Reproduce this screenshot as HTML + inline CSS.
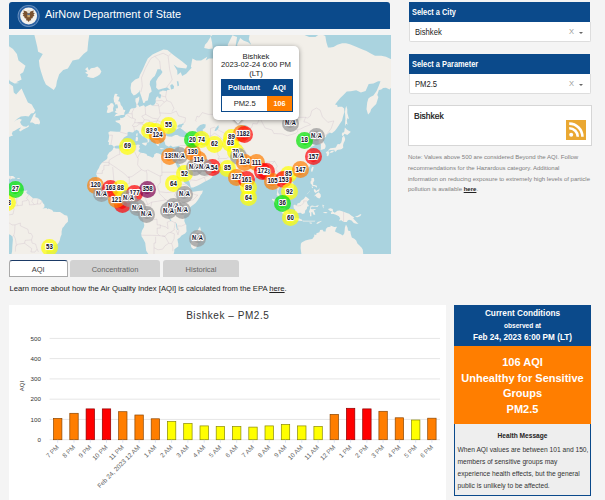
<!DOCTYPE html>
<html><head><meta charset="utf-8">
<style>
*{box-sizing:border-box;margin:0;padding:0}
html,body{width:605px;height:500px;overflow:hidden;background:#f4f4f4;font-family:"Liberation Sans",sans-serif;}
.abs{position:absolute}
#hdr{left:9px;top:2px;width:381px;height:27px;background:#0b4a8b;border-radius:3px 3px 0 0}
#hdr .t{position:absolute;left:36px;top:6px;color:#fff;font-size:10.95px;line-height:13px;white-space:nowrap}
#map{left:9px;top:34.5px;width:381.5px;height:219.3px;background:#aad3df;overflow:hidden}
.mk{position:absolute;width:17px;height:17px;border-radius:50%}
.mk i{position:absolute;left:3.5px;top:3.5px;width:10px;height:10px;border-radius:50%}
.mk b{position:absolute;left:-6px;width:29px;top:4.5px;text-align:center;font-size:6.9px;line-height:8px;color:#0b0b1c;font-weight:bold;transform:scaleX(.88);text-shadow:.7px .7px 0 #fff,-.7px .7px 0 #fff,.7px -.7px 0 #fff,-.7px -.7px 0 #fff,0 1px 0 #fff,0 -1px 0 #fff,1px 0 0 #fff,-1px 0 0 #fff,0 0 2px #fff,0 0 2.5px #fff,0 0 3px #fff}
.mk s{display:inline-block;text-decoration:none;font-weight:normal;transform:skewX(-22deg);margin:0 .2px}
#pop{left:203.6px;top:11.1px;width:86.8px;height:74px;background:#fff;border-radius:5px;box-shadow:0 1px 5px rgba(0,0,0,.4);text-align:center;font-size:7.7px;color:#222;line-height:8.6px;padding-top:7px}
#pop .tb{position:absolute;left:8.4px;top:33.8px;width:71.6px;height:33px;border:1px solid #0b4a8b}
#pop .th{position:absolute;left:0;top:0;width:69.6px;height:15.5px;background:#0b4a8b;color:#fff;font-weight:bold;font-size:7.5px;line-height:15.5px}
#tip{left:225px;top:79.5px;width:8px;height:8px;background:#fff;transform:rotate(45deg);box-shadow:1px 1px 2px rgba(0,0,0,.3)}
.ph{left:409px;width:181px;height:19.7px;background:#0b4a8b;color:#fff;font-size:8.6px;font-weight:bold;line-height:10px;padding:5.2px 0 0 3px}
.ph span{display:inline-block;transform:scaleX(.86);transform-origin:0 50%;white-space:nowrap}
.sel{left:408.5px;width:182px;height:20.3px;background:#fff;border:1px solid #ddd;border-top:none;border-radius:0 0 2px 2px;font-size:8.7px;line-height:10px;color:#222;padding:5.8px 0 0 5.5px}
.sel span.v{display:inline-block;transform:scaleX(.88);transform-origin:0 50%;white-space:nowrap}
.sel .x{position:absolute;right:15.5px;top:5.5px;color:#999;font-size:7.5px;line-height:10px}
.sel .c{position:absolute;right:6.5px;top:10px;width:0;height:0;border:2px solid transparent;border-top:2.5px solid #666}
#bx{left:408px;top:105px;width:184px;height:41px;background:#fff;border:1px solid #d6d6d6}
#bx .t{position:absolute;left:5px;top:5px;font-size:8.5px;color:#111;-webkit-text-stroke:0.2px #111}
#note{left:408px;top:152px;width:190px;font-size:6.04px;line-height:10.8px;color:#808080;white-space:nowrap}
#note b{color:#222;text-decoration:underline}
.tab{top:260px;height:17px;font-size:7.5px;text-align:center;padding-top:5px;border-radius:3px 3px 0 0}
#learn{left:9.4px;top:283.5px;font-size:7.66px;color:#222;white-space:nowrap}
#chart{left:9px;top:305px;width:437px;height:195px;background:#fff}
#cc{left:454px;top:305px;width:137px;height:191px;text-align:center}
#cc .h{position:absolute;left:0;top:0;width:137px;height:41px;background:#0b4a8b;color:#fff;font-weight:bold}
#cc .o{position:absolute;left:0;top:41px;width:137px;height:78px;background:#ff7e00;color:#fff;font-weight:bold;font-size:11px;line-height:15.7px;padding-top:9px}
#cc .m{position:absolute;left:0;top:119px;width:137px;height:72px;background:#eee;border:1px solid #0b4a8b;border-top:none;font-size:6.68px;color:#333;line-height:11.9px;text-align:left;padding:6px 0 0 2.5px;white-space:nowrap}
#cc .m div{margin-bottom:2.5px}
</style></head><body>
<div id="hdr" class="abs"><svg class="abs" style="left:8px;top:2.6px" width="24" height="24" viewBox="0 0 24 24"><circle cx="11.6" cy="11" r="11" fill="#6f95c2"/><circle cx="11.6" cy="11" r="10.2" fill="#2c62a3"/><circle cx="11.6" cy="11" r="8.5" fill="#f4f1ec"/><path d="M11.6 5.2l1.6 1.3 3.6-.9-.6 2.2 1.6.2-1.3 1.8 1 .6-2 1.7.4 1-2.2.6.6 1.6-1.6.2-1.1 1.6-1.1-1.6-1.6-.2.6-1.6-2.2-.6.4-1-2-1.7 1-.6-1.3-1.8 1.6-.2-.6-2.2 3.6.9z" fill="#7a5230"/><circle cx="11.6" cy="6.6" r="1.7" fill="#e9dfcf"/><rect x="10.3" y="8.6" width="2.6" height="3.6" fill="#c9a36a"/><rect x="10.3" y="8.6" width="2.6" height="1.2" fill="#3a5f9a"/></svg><div class="t">AirNow Department of State</div></div>
<div id="map" class="abs">
<svg width="382" height="220" viewBox="0 0 382 220" style="position:absolute;left:0;top:0"><path d="M104.5 112.4L105.4 112.3L106.6 113.6L109 113.4L110.6 113.8L112.1 112.6L114 111.9L116.1 110.9L118.4 110.5L121.5 110.5L123.9 109.9L126.2 110.3L129.1 109.5L129.8 109.7L131.1 110.1L130.2 111.3L130.3 112.8L131.1 113.6L129.7 115.3L129.5 116.3L131.1 117.4L133.3 118.1L134.4 118L137.5 118.9L138.1 120.5L141.1 121.6L143.5 122.7L145 121.6L145.2 119.4L147.4 118L149.9 118.5L152.9 120.2L156 120.9L159.1 121.6L160.7 120.9L162.3 120.4L164.3 120.9L166.2 121.3L167.4 120.9L168.4 124.2L167.6 126.9L167.3 127.4L166.4 126.3L164.8 123.5L164.5 124L165.7 126.5L166.7 128.3L167.8 130.9L169.3 133.8L169.6 135.6L171.5 137.2L172 138.9L172.1 141.3L172.5 142.8L174.2 143.9L175.1 147.2L175.8 148.3L177.9 149.5L180 151.4L181.4 152.9L181.6 154.3L182.5 156.2L183.9 156.8L185.8 156.4L188.9 156.1L192.1 155.7L193.9 155.4L193.5 157L193 158.4L191.7 160L190.5 162.4L188.9 165.1L186.6 167.9L184.7 169.5L182.6 171L181.1 172.6L179.5 174.2L177.9 175.7L176.7 177L175.8 179.3L174.7 182L175.6 183.6L175.3 186L176.4 188.7L177.3 189.9L177.3 193.1L177.6 196.4L176.1 198.5L172.5 200.6L170.9 202.6L168.4 204.3L168.9 207.1L169.3 208.8L169.3 211.4L167 213.1L165.3 214.5L165.3 216.6L164.6 219.2L162.3 221.9L157.6 227.4L154 229.3L148.2 229.7L145 230.8L142.7 229.9L142.2 225.6L140.3 221L139.4 219.2L137.2 215.7L136.4 209.6L136.3 208L134.5 204.6L132.5 201.3L132.2 198.8L133 195.6L134.9 192.3L135.3 189.9L134.4 186.8L133.9 184.4L133 182L132.7 180.4L130.9 178.6L128.7 176.4L127.6 173.9L128.4 172.1L128.7 170.2L129.1 168.2L128.7 166.5L127.5 165.4L124.7 165.7L123.1 165.9L122.2 164.4L120.8 162.7L119 162.6L116.1 162.9L114.5 163.5L112.9 164.1L110.6 165.1L108.2 164.6L105.9 164.6L101.9 165.7L99.6 164.4L96.8 162.6L94.1 160.8L93 159.2L92.4 157.6L90.5 155.6L88.2 153.7L87.4 151.6L86.3 149.3L87.7 147.2L88.3 144.7L88.3 141.8L87.1 138.9L88.3 135.6L89.9 133L91 130.2L93.3 127.2L96 125.6L98 124L98.5 122.4L98.3 120.5L100.2 117.4L101.8 116.6L103.5 114.9ZM104.9 112.1L106.8 110.7L110.4 110.5L112.6 108.9L113.9 106.7L113.2 105.1L115 102.5L117.1 101.2L118.7 100.2L118.4 97.4L120 96.7L122 97.2L123.9 97.6L125.5 96.1L127.6 94.8L129.7 95.9L130.2 98L132.2 99.7L133.3 101.2L135.3 101.6L136.1 102.7L138.1 104.1L138.8 106.1L138.3 108.1L139.6 107.3L140.5 106.1L139.7 104.7L140.3 103.1L142.5 104.1L141.9 102.7L140.3 102L138.8 100.2L137.2 100L135.6 98.5L134.9 96.5L133.3 95.2L133 92.8L135.2 91.9L135.2 93.7L136.4 93L137.5 95L138.8 96.7L141.1 97.8L142.7 99.1L144.1 100.4L144.1 103.1L145 104.7L146.6 107.3L147.4 109.5L148.2 110.5L149 111.1L149.9 111.1L149.7 109.1L151.3 108.7L150.5 107.1L149.4 105.5L149.4 103.1L151 104.1L152.1 102.5L154.4 102.5L154.8 103.9L154.8 105.1L155.7 107.1L156.5 110.1L157.9 110.7L159.9 111.7L161.7 110.5L163.8 111.9L167 111.5L169.3 110.9L170.4 110.5L170 113L170 114.9L169.3 116.1L168.5 118.1L167.8 120.5L167.3 120.9L168.4 124.2L168.5 126.9L170.9 130.4L172 133.3L174 135.6L175 138.1L176.4 140.6L177.9 143.1L180.3 146.4L181.1 149.6L181.9 152.5L184.2 152.4L188.9 150.4L192.1 148.8L195.5 146.7L198.3 145.6L200.7 144.2L203 142.3L204.3 139.8L206.2 137.2L207.4 136.4L205.5 134.5L203 133.8L202.1 132.3L202.1 129.9L201.5 130.7L200.4 131.6L198.9 133.2L195.2 133.8L194.4 133L194.6 130.4L193.9 130.2L193.3 131.3L193.3 132.5L192.4 130L190.5 127.8L189.7 126L188.9 124.2L189.9 123.3L191.3 123.1L192.8 124.2L193.6 126L196 127.8L199.1 129.3L201.9 128.5L203.5 130.9L206.2 131.4L210.1 131.9L213.2 131.6L217.9 131.4L218.7 132.5L220.3 134.4L221 135.6L221.8 136.7L223.4 138.9L225 139.4L226.5 138.6L227.5 136.7L227.8 138.9L227.8 142.3L228.6 145.6L229.3 148L230.9 152.1L232.5 154.9L233.3 157L234.4 159.5L235.1 159.9L236.2 158.6L237.5 158L238.7 156.4L238.9 153.7L239.5 151.9L239.4 148.8L240.6 147.2L242.7 146.1L244.5 144.2L246.9 141.8L249.2 140.3L250 138.1L251.9 137.6L253.2 137.6L255.5 137.2L257.6 136.7L258.3 139.4L260.2 141.4L261.5 143.9L261.5 147.2L263 147.5L264.4 146.2L266 146.1L266.8 148.8L267.6 151.2L268.2 153.7L268.2 156.8L267.7 159.7L269.3 161.6L270.9 163.2L271 165.5L272.4 168.1L274 169.3L275.9 170.6L277 170.4L276.4 168.5L275.7 167.1L275.7 165.5L274.5 164L273.8 162.9L272 161.8L271.2 161.3L270.4 159.2L269.3 158L269.1 156.1L270.2 153.7L270.4 151.4L271.8 151.2L272 152.5L273.8 153.3L274.9 154.1L275.9 155.9L277.5 156.2L277.9 158.9L278.7 158.4L280.9 156.4L281.7 156.2L284.5 154.5L285 152.1L284.8 150.4L284.2 148L283.2 147L281.4 145.2L280.6 144.2L279.5 142.3L280.9 139.4L282.2 138.4L283.7 137.8L285.3 138.1L286.1 140.1L286.9 138.6L289.2 137.6L291.6 136.9L292.7 136.7L294.7 135.9L296.6 135L298.6 133L301 131.3L301.3 129.5L302.5 127.8L304.2 126L304.7 123.6L303.2 122.7L304.7 121.6L304.1 119.6L302.5 116.8L300.5 114.4L301 113.4L302.2 112.1L305.7 110.3L305.8 109.5L303.9 108.9L301 109.7L299.9 108.5L298.1 106.5L298.1 106.1L300.2 105.7L301.4 104.1L303.3 102.5L305.2 103.1L303.6 106.1L304.2 106.3L305.7 105.1L308.5 104.3L309.6 105.1L310 107.1L309.1 108.1L310.4 108.7L312.1 109.3L311.8 111.1L311.9 113L311.6 114.9L313.5 114.6L315.8 113.8L316.6 112.1L316.5 110.1L315.2 107.9L313.5 105.1L315.1 103.1L316.9 102L317.4 100L318.5 99.3L320.5 97.6L322.9 98.3L326 95.7L328.4 92.4L330.7 89L333.1 85.5L333.9 81.9L335.4 76.9L335.1 73.5L333.1 71.7L329.9 71.7L328.8 72.2L328.1 70.1L326 69.5L329.2 65.4L331.5 62.8L333.9 60.4L337.8 56.5L341.7 56.2L347.2 55.3L351.9 57.4L356.6 55.9L359.7 48.9L364.4 48.6L369.1 46.2L371.5 46.2L369.6 51.2L367.6 55.9L364.4 60.4L361.3 61.9L359.4 63.4L358.2 67.6L357.5 74.3L358.9 78.9L359.2 79.6L361.3 76.9L362.1 74.3L364.4 71.7L367.2 69L368.3 65.6L369.4 61.9L368.3 59.9L369.9 55L372.3 54.4L374.1 53.1L377 52.8L380.6 54.4L383.2 51.2L389.5 46.9L394.2 46.2L398.9 39.2L398.9 25.5L381.7 23.9L377 21.7L372.3 20.8L366 20.8L361.3 18.2L357.4 15.9L353.5 14.5L348.8 12.6L344 10.6L340.9 9.2L337 8.2L333.1 8.2L328.4 9.7L324.5 12.1L321.3 12.6L319 12.6L317.4 7.2L316.3 0.9L311.1 -1.3L306.4 1.9L300.2 1.9L292.3 -1.3L290.8 -4.7L286.1 -3.6L281.4 -0.8L278.2 -12.5L276.7 -27.4L270.4 -19L262.6 -15.7L254.7 -12.5L250 -9.4L246.9 -3.6L240.6 -0.8L239.8 4.6L242.2 9.7L239.1 7.2L234.4 5.6L231.2 3L228.1 9.7L229.7 16.8L228.9 23.4L227.3 22.1L226.5 12.1L228.1 1.9L223.4 0.3L218.7 9.7L221 21.3L218.7 23.4L215.6 20.4L208.5 17.7L207.7 23.4L199.9 23.4L196.8 25.5L198.3 21.7L192.1 25.5L187.3 25.5L183.4 23.4L181.9 31.6L182.6 32.8L177.2 38.8L173.2 41L171.7 37.3L168.5 39.9L168.2 35.5L164.6 29.6L168.5 32.4L177.2 33.6L178.3 30.8L173.2 26.4L165.4 20.8L162.3 18.2L158.4 14.9L154.4 14.5L148.2 17.2L143.5 19.5L138.8 23.4L136.4 28.4L133.3 35.5L130.9 39.9L130 43.1L126.2 44.5L122.3 47.9L121.5 53.1L122.3 57.4L124.7 60.4L127 59.6L130.2 56.8L130.5 54.7L130.9 57.4L132.2 61.3L133.8 66.2L134.1 67.9L136.1 67.6L136.4 65.9L138.8 65.4L139.6 61.9L140.3 58.4L142.7 56.5L141.9 52.8L140.7 49.5L141.1 46.2L143.5 43.1L145.8 41L147.4 37.3L148.5 34.3L151.6 34.3L153.5 37L152.1 39.2L149 42.8L147.1 46.2L147.4 49.5L147.1 52.5L149 54.4L149.7 54.7L152.9 53.7L156.8 52.8L158.4 52.5L161 54.7L158.4 55L157.6 55.9L153.7 55.6L152.4 56.2L150.5 56.8L150.5 59L152.1 59.6L151.8 61.9L151.3 63.4L149.7 63.1L149.1 61.3L147.4 62.2L146.6 64.8L146.8 67L145.8 69.2L144.9 69.8L144.3 70.6L142.8 70.6L141.9 69.5L139.6 70.3L136.1 71.9L134.9 70.3L132.5 71.1L130.9 71.7L130.6 71.9L129.4 70.3L128.6 69L129.4 67.6L130.2 64.8L130.3 61.3L128.6 62.8L126.5 63.4L126.4 66.2L127 67.9L127.2 69.2L127.5 71.7L127.2 72.2L126.2 73L124.7 73.3L122.3 73.5L121.2 74.6L120.4 76.6L119.2 78.4L117.6 79.1L116.2 79.9L116.1 81.4L114 82.8L111.8 83.3L111 82.6L111.2 85L109.5 85.2L106.3 85.7L107 87.1L109.3 88L110.4 88.5L111.8 90.8L111.8 94.1L111.2 96.7L107.7 96.7L104.6 96.5L101.2 96.3L99.3 97.6L99.9 100L100.1 101.6L99.6 105.1L98.8 106.5L99.9 107.3L99.8 110.1L102.1 109.7L103.7 110.5ZM104.8 81.6L107.1 81.1L108.2 80.9L110.6 80.4L112.1 80.1L114.5 79.9L115.9 78.9L114.8 78.1L115.6 77.4L116.4 75.3L114.2 74.6L113.9 73L113.4 71.7L111.8 70.1L111.2 67.6L110.3 66.2L109 66.2L109.8 64.8L110.6 61.9L108.2 61.3L107.4 61.3L108.7 59L105.9 58.7L105.1 61L104.6 63.4L104.9 65.4L105.1 67.6L106.2 67.6L106 69.5L108.2 69.2L109 71.7L108.8 73.3L106.6 73.5L107.3 75.3L105.6 77.1L107.4 77.9L109 78.4L107 79.1L105.7 80.9ZM104.3 76.4L104 73.5L104.9 70.6L104 68.4L101.9 68.1L100.4 70.1L98 71.1L98.8 73.5L98 76.1L97.7 77.6L99.1 78.1L101.2 77.4L103 76.6ZM78.1 41.7L81.6 42.8L84.4 43.1L88.6 41L91 39.2L92.4 36.6L90.5 33.2L88.3 31.6L85.5 32.8L81.9 33.2L80 35.5L78.4 32L76.1 34.3L78.4 36.2L76.1 37.7L79.2 39.5ZM44.8 55L47.1 51.2L47.9 46.2L50.2 39.2L54.2 35.1L58.9 33.6L63.6 25.5L69.8 24.3L74.5 19.1L78.4 15.9L79.2 7.2L80.8 -3.6L83.9 -15.7L83.9 -29.7L85.5 -46.1L74.5 -78.3L43.2 -84.9L19.7 -66.2L7.1 -46.1L0.9 -33.5L5.6 -22.4L7.1 -15.7L18.1 -15.7L22.8 -9.4L25.9 1.9L28.3 12.1L29.1 16.8L33.8 19.1L29.9 25.5L30.6 31.6L32.2 37.3L34.6 44.5L36.9 49.5L41.6 52.8ZM195.2 13.1L199.9 14L203.8 13.5L203 7.2L201.5 0.3L204.6 -6.5L209.3 -12.5L217.1 -21L221.8 -22.4L218.7 -15.7L209.3 -6.5L201.5 1.9L198.3 7.2L196 9.7ZM133.1 108.1L134.9 107.7L138.1 107.5L137.5 110.1L136.4 110.7L133.4 108.9ZM126.5 105.7L126.9 102.3L128.1 101.6L129.1 103.1L128.7 105.7L127.8 106.3ZM127.2 100.8L127.2 98.9L128.4 97.8L128.6 100L128.1 101.2ZM150.5 113.4L152.1 113L154.9 113.6L154.6 114L152.1 114.2L150.5 113.6ZM164.3 114.2L165.4 113.4L167.8 112.6L167 114L165.4 114.8ZM238.7 157.3L239.5 157.5L241.1 159.2L242 161.1L241.6 162.6L240 163.3L239.1 162.7L238.6 160ZM191 191.5L192.5 197.2L191.4 199.6L189.7 205.4L188.1 211.4L186.6 213.4L184.2 213.9L182.3 212.2L181.6 208.8L183.1 205.4L182.6 202.1L183.4 198.5L186.3 197.7L188.6 195.6L189.7 193.6ZM263 163.8L266.5 164.4L268.4 166.6L271.2 169.2L272.8 169.9L275.1 171.3L276.4 173.4L277.5 175.4L279.8 177.3L279.6 181.7L277.6 181.4L274 178.9L271.7 175.7L268.8 171.8L267.3 169.5L264.9 166.6L263 164.8ZM278.5 183.3L280.1 182L281.4 181.9L283.7 182.8L286.9 183.4L287.6 182.6L290.3 183.4L293.1 184.7L293 186.1L290 185.8L286.1 185.2L282.9 184.9L280.6 184.1ZM293.1 185.5L295.5 185.7L297.8 185.7L300.2 185.7L301.7 185.7L306.4 185.7L305.7 186.4L301.7 186.6L298.6 186.6L295.5 186.6L293.9 186.4ZM307.2 188.8L308.8 187.1L313 185.8L311.9 186.8L308.8 188.7ZM300.2 187.6L302.5 187.6L303 188.7L301 188.4ZM284.5 170.2L285.6 169.5L288 170.2L288.4 168.5L290.8 167.7L292.3 165.5L294.7 164L296.6 161.6L298.1 162.6L300.5 164.4L298.6 165.9L298 167.1L298.6 169.2L300.2 171L298.1 171.8L297.8 173.9L296.3 175.3L295.8 178.1L295.2 178.6L293.3 179L291.6 177.8L288.9 178.1L286.4 177.3L286.1 174.6L284.8 173.4L284.5 171.3ZM301.4 171.3L303 170.6L306.1 171.2L309.9 170.1L308.5 172L306.4 171.8L302.5 171.8L301.7 173.9L303.6 174.2L306.1 174L307.1 174.2L304.6 175.6L305.7 177.6L306.3 179.5L304.9 180.1L304.1 178.9L303.2 176.8L302.4 177.3L302.4 181.2L301 181.2L301 178.1L299.9 177L301.3 172.9ZM313.5 169.6L314.3 170.2L315.4 170.2L314.3 171.8L315.1 173.4L314 172.6L313.5 171ZM314.3 177.3L316.6 177L318.7 177.6L317.4 178.2L314.6 178.1ZM319 173.9L321.3 173.2L323.7 173.9L324 176.5L325.7 177.8L328.4 175.7L330.7 175.4L334.6 176.7L337.8 177.9L340.1 178.7L342.2 180.4L344.5 182L345.3 183.1L344 183.3L345.9 185.2L348 187.6L349.5 188.8L347.2 188.7L344.8 188L342.5 185.5L340.1 184.7L338.6 185.5L337.8 187.1L334.6 186.9L332.3 185.3L329.9 185.7L331.2 183.6L329.9 181.2L326.8 179.8L324.5 178.9L322.1 178.9L321.8 177.8L323.4 176.5L321.3 176L319.8 175ZM346.4 181.4L348.8 180.8L351.1 179.2L352.4 179.3L351.4 181.1L348.8 182.3L346.4 182ZM302.5 143.1L304.9 143.1L305.3 145.6L304.2 147.5L304.2 150L305.7 150.1L307.9 150.8L308 152.7L306.9 152.1L305.7 151.2L303.6 151.1L302.7 150.1L302.5 149.1L301.7 148.8L301.4 146.7L302.4 145.6ZM304.9 161.6L307.1 158.9L309.6 157.2L311.6 159.2L311.9 161.6L311.1 162.7L310.4 163.5L309.6 163.2L308 162.4L306.4 160.8ZM304.9 154L306.4 154.5L307.2 156.1L308 155.3L309.6 154.5L310.4 152.9L310.4 155.3L309.6 156.5L308 156.8L306.8 158L305.7 157.2L304.9 156.1ZM297.4 159.4L299.4 157.5L301 155.6L300.6 156.5L298.6 158.8ZM302.5 151.4L304.1 151.7L303.8 153.2L303 152.7ZM303.3 131.8L304.7 132.1L304.1 134.7L303 137.2L302.1 135.9L302.1 134.2ZM284 141.9L285.3 140.6L287.5 140.6L286.9 142.6L285.3 143.6L284 142.9ZM316.9 117.2L318.8 116.1L320.1 116.8L320.4 118.1L319.4 120.7L318.4 121.3L317.7 120.7L317.9 118.7L316.9 118.1ZM320.9 117.2L322.1 115.9L324.5 115.5L324.8 116.3L324 117.2L322.4 117.8L321.5 118.1ZM318.8 115.9L320.5 115.3L322.9 115.1L325.2 114.8L325.6 116.3L326.7 116.8L328.1 114.9L329.2 114.8L331.2 114.6L332.8 114L334.3 112.6L334 110.5L334.6 108.1L335.7 106.1L336.2 104.1L335.3 101.2L334.3 101L333.1 102.7L332.9 105.1L332.3 107.5L330.7 109.3L328.8 109.1L328.1 110.1L326.8 112.4L325.7 112.8L323.7 113L321.3 113.2L319.4 114.9ZM333.2 101L334.6 100.4L335.4 98.7L338.3 100L341.2 97.4L341.7 96.7L339.8 95.7L337.8 94.6L335.9 92.6L335.6 94.6L335.1 97.2L333.6 97.4L332.8 99.1ZM336.2 91.2L337 89L337.8 89L338.6 90.1L337.8 85.5L338.6 83.1L340.1 84.3L338.3 78.1L338.3 74.3L337.3 70.9L336.5 73L335.9 76.9L336.2 80.6L336.4 84.3L336.1 87.8ZM291.9 208.8L292.7 207.6L296.3 205.6L300.2 204.6L303.3 203.9L305.3 201.3L305.2 199.6L307.2 200.1L307.5 198.3L310.4 197.2L311.1 195.1L313.5 194.8L314.6 196.4L316.6 196.4L316.9 194L318.5 192.3L319.8 191.9L321.5 191.7L321.5 190.6L325.2 191.9L328.1 191.7L326.8 194L326 196.4L328.4 197.7L331.8 199.3L333.9 200.6L335.3 198.3L335.7 194.8L335.9 192.5L337 189.6L338.6 192.8L339 195.4L341.4 196.2L341.7 198.8L342.8 202.6L345.3 203.8L347.2 205.4L348.4 208.5L350 210L352.7 212.7L353.8 214.8L354.2 218.3L353.5 223.7L333.1 237.1L317.4 225.6L293.9 229.3L292.3 218.3L291.6 213.1ZM130.9 -41.7L140.3 -46.1L151.3 -48.9L156 -46.1L146.6 -33.5L141.9 -22.4L138 -21L134.9 -29.7ZM-27.3 -0.8L-13.2 -1.9L-7 3L-2.3 9.7L4 14L7.9 19.1L9.5 25.5L16.5 30.8L14.2 37.3L11.1 39.2L12.6 44.5L7.1 47.2L10.3 47.9L5.6 48.6L0.9 45.9L-3 39.5L-8.5 39.2L-7.7 35.5L-2.3 35.5L-0.7 29.6L-3.8 24.3L-9.3 16.8L-19.5 16.8L-27.3 12.1ZM-27.3 47.9L-8.5 46.5L-7.7 52.8L-8.5 58.7L-7 63.4L-9.3 69L-10.9 76.9L-12.4 78.9L-10.1 78.1L-9.8 73L-7 67.6L-6.2 63.4L-8.5 58.1L-7.4 53.7L-8.5 46.9L-3.8 47.2L0.1 48.6L4 51.2L4.8 57.4L7.1 59.6L11.1 55L12.6 53.4L15 59L17.3 63.9L18.9 67.6L22.8 69.5L24.4 72.5L26.3 75.6L24.7 78.1L22 78.6L19.7 81.4L16.5 81.1L11.8 81.4L8.7 83.6L4.8 87.1L7.1 85.2L10.3 83.8L12.9 84.7L11.1 87.1L12.2 89.4L14.2 91.2L17.3 91.7L19.7 90.1L19.7 91.7L17.3 93L14.2 94.4L11.1 96.5L10 95L12.2 92.6L10.3 93L8.4 94.1L5.6 95.7L3.7 96.5L2.8 98.9L4 100.6L1.7 101.2L-2.3 102.9L-4.6 108.1L-5.4 112.1L-13.2 121.5L-27.3 125.1L-27.3 47.9ZM20.9 87.6L22.5 84.3L24.7 79.4L26.7 77.9L26.3 81.9L29.1 83.1L30.6 85.5L31.1 87.8L30.2 89.6L28.3 89L26.3 89.2L23.6 87.6ZM-2.9 143.3L-0.7 140.8L1.3 140.9L4 141.1L6.5 142.9L5.6 143.4L3.2 143.6L1.5 144.4L0.1 143.6ZM8.4 143.1L10.9 143.3L10.6 143.9L8.4 143.9ZM-10.9 157.5L-7.4 158.9L-6.6 160L-4.8 157.6L-4.6 155.9L-3.5 155.1L-1.2 154.8L1.3 153L2 154L1 155.3L1.7 158L2.3 155.4L4 153.3L6.5 154.9L7.1 156.1L10.3 155.9L12.2 156.7L13.7 155.7L16.5 155.7L16.9 156.8L18.4 159.1L20 159.7L22 161.6L24.1 163.2L27.2 163.2L29.1 163.5L31.4 164.8L33 165.9L33.8 167.9L35.4 169.8L35.4 172.3L33.5 173.4L37.7 172.9L38.2 174.2L39.3 173.5L43.2 175L44.3 176.8L47.9 177L51 177L53.4 178.4L55.4 180.1L58.2 180.8L59 183.6L58.9 186.8L56.5 189.1L54.9 191.5L53.4 193.1L52.6 196.4L52.6 199.6L51.5 202.1L50.7 205.4L49.5 208L47.9 209.6L44 210L41.1 211.4L38.5 213.6L37.5 215.7L37.4 219.2L32.2 227.4L22.8 237.1L4 263.3L-0.7 251.7L0.9 231.2L1.7 221.9L3.1 216.6L3.4 210.5L3.9 204.6L3.5 201.8L1.7 200.1L-1.5 198.3L-5.7 194.8L-7.3 191.5L-8.8 188.4L-10.9 184.4L-13.5 182L-13.7 179.3L-11.7 177.3L-12.9 174.2L-11.7 171.8L-10.1 170.2L-9.3 168.7L-7.4 166.3L-7.7 162.4L-8.8 160ZM16.7 155.6L18.3 155.6L18.1 156.7L16.7 156.7Z" fill="#f2efe9"/><path d="M100.1 127.4L100.1 125.1L108.2 120.2L110.9 119.3L110.3 113.8M87.1 138.4L93.3 138.4L93.3 135.6L94.9 134.9L94.9 130.4L100.1 130.4L100.1 127.4L93 127.4M100.1 128.1L106.2 132.1L115.6 138.8L118.9 142.3L120.3 142.1L120.3 148.8L114 148.8L115.1 151.2L117.1 153L119.3 154.1M118.9 142.3L122.8 141.6L132.5 134.7L128.6 129.9L129.2 123.3L128.6 122.9L126.5 118.7L125.5 116.3L126.7 114.6L127.2 110.3M128.6 122.9L129.8 120.2L131.7 117.6M152.9 120.4L152.9 140.6L151.3 140.6L151.3 147.7L149 150.4L148.6 152.1L149.6 155.3M152.9 137.2L171.5 137.2M151.3 141.4L138.8 134.9L137.2 135.6L136 136.2L132.5 134.7M137.2 135.6L138 138.9L138 145.9L135 150.9L136 152.4L138 156.8L135.6 160.8L137.5 161L136.6 164L138.8 169.5M95.7 147.8L105.1 148L103.7 132.1M87.8 147.2L91 146.2L94.6 149.1L95.8 153L92.2 152.7L87.5 153M95.8 153L100.4 154.8L101.2 156.5L105.1 156.2L109.3 156.8L109.3 164.6M101.2 156.5L100.4 160.7L101.9 165.7M95.7 161.8L99 161L100.4 160.7M105.1 156.2L105.6 154L107.4 151.4L112.6 148.8L114 148.8M109.3 156.8L113.7 155.3L115.1 155.3L114.8 159.5L115.6 163M115.1 155.3L117.1 153M116.2 162.7L116.2 158.4L119.3 154.1M119.3 154.1L120.8 150.9L124.7 152.1L127.8 152.4L135 150.9M136 152.4L134.9 156.8L132.5 160.8L129.1 162.9L127.2 165.1M129.1 169L131.4 169.2L134.5 169.2L138.8 169.5L142.8 167.1L149 166.2L156.8 164.8L162 167.1M149.6 155.3L151.3 156.8L157.6 157.6L165.4 156.8L167 157.6M149.6 155.3L150.7 158.8L156.8 164.8M174.2 143.9L171.7 145.6L170.9 150L168.5 155.3L167 157.6L165.4 160L168.5 164.1L170.1 165.5L174.8 167.1L177.9 166.5L179.5 166L184.2 164.8L188.9 160L187.3 160L181.1 157.6L180.8 155.3L179.2 155.3L181.2 152.7M170.9 150L173.1 149.1L176.4 149.8L180.1 152.9M177.9 166.5L177.9 175.3M167 174.2L172.8 177.3L175.1 180M168.5 164.1L167 171L167 174.2M162 167.1L167 166L168.5 164.1M142.8 167.1L141.6 172.6L138.8 175.7L137.7 179.3L134.1 180L132.8 181.7M131.1 178.7L132.5 176.2L136.3 175.7L136.4 171L134.5 169.2M134.1 181.9L139.7 181.9L141.1 185.2L147.9 184.1L148.2 189.9L151.3 189.9L151.3 193.1L148.2 193.1L148.2 198.3L150.4 200.6L153.3 201M151.3 190.4L156.8 191.9L159.1 193.8L158.2 187.2L162 185.7L165.3 187.4L167 187.6M162 167.1L162.3 169.2L160.1 174.8L159.3 176.8L159.6 179.7M160.1 174.8L161.5 174.2L167 174.2M161.5 174.2L162 176.4L161.3 179.7L159.8 179.5M132.2 200.1L135.6 200.3L142.5 200.3L150.4 200.6M146.6 201.8L146.6 208L145 208L145 212.7L145 219M145 212.7L149 214.8L153.7 214.1L156 210.7L159.8 208.3L162.7 208.6L165.1 203.8L165.4 198.8L161.3 197.4L159 198L156 201.3L153.3 201M153.3 201L156 201.3L159.8 208.3M162.7 208.6L163.8 212.2L163.8 216.2M168.4 190.9L172.5 191.1L177 189.1M161.3 197.4L165.4 194.8L164.9 194.1L165.7 191.5L166.2 187.7M167.9 190.7L170 195.9L169 199.8L167.4 195.4M167.4 120.9L168.4 124.2M169.5 117.4L169.5 118.3L168.5 124.4L170.3 124.7L172.5 123.3L171.7 120.5L174.8 119.6L177 119.8L179.5 121.3L183.7 124.7L186.6 124.9L188.1 125.1L189.5 126M169.5 118.3L171.4 119.1L174.5 117L177.9 115.1L178.3 112.8L180.1 109.9M170.1 112.1L171.2 110.5L173.2 110.5L176.4 110.5L180.1 109.9L183.9 109.7L185.8 112.4L185 115.9L185.8 117.8L188.6 120L189.9 123.3M183.9 109.7L183.4 104.7L182 102L178.9 101M176.4 97L181.1 97.4L186.4 100.2L189.7 100.4M183.4 104.7L186.6 106.3L188.9 105.1L190.3 107.3M182 102L184.2 101.6L186.4 100.2M184.2 101.6L185 102.9L186.6 106.3M180.8 146.5L182.6 144.9L187.3 145.6L195.2 142.3L199.9 140.6L201 137.2L200.2 136.1L196.1 135.7L194.6 133.5M195.2 142.3L196.9 146.1M200.2 136.1L201.5 133.8L201.9 132.3M198.2 109.5L201.5 108.1L203.5 107.7L206.6 109.1L209.6 110.9L208.5 115.9L209 120.5L210.5 121.5L209.1 123.6L212.1 128.3L212.7 129.3L210.2 131.8M209.1 123.6L217.6 123.5L222.3 119.8L223.4 116.5L225.1 115.7L225.9 111.1L230.4 110.1M209.6 110.9L214.8 111.5L217.9 109.3L220.3 110.1L223.4 108.9L225.9 110.7L230.4 109.7M220.6 134.4L225 133.2L223.4 127.2L228.1 123.5L230.4 121.5L229.7 117.8L234.4 113L237.5 118.7L240.6 122.9L251.8 127L252.8 126.9L257.9 127.2L265.7 126.3M265.7 126.3L262.6 129.5L261.3 133.8L259.9 133.8L258.8 138.4M251.8 129.7L251.8 133L253.2 137.2M258.3 137.2L257.1 133.8L258.3 132.1L254.4 130.4L251.8 129.7M239.2 125.4L245.3 127.9L251.8 129.7M252.8 126.9L253.2 129L257.9 129L257.9 127.2M265.7 126.3L268.4 131.3L266.6 134L269.1 137.1L272.1 138.1L273.7 136.6L278.7 135L280.9 137.2L282.9 138.1M269.1 137.1L270.6 140.1L266.8 143.1L268.7 146.7L267.6 148.8L269.1 153.7L268.5 156.4M270.6 140.1L272.3 141.4L272.3 144.7L273.7 143.6L276.7 143.4L277.9 146.4L279.2 149.6L274.9 150.1L274 151.2L274.9 154.1M273.7 136.6L276.5 139.3L278.2 142.8L282.3 148.3L282.2 149.3L282.2 153.2L279.5 154.3L277.3 156.2M279.2 149.6L282.2 149.3M270.6 162.6L273.7 162.9M285.4 169.5L288.9 171L292.2 170.4L294.7 167.9L294.7 165.9L298 166M334.6 176.7L334.6 186.9M187.3 86.6L186.6 85.7L188 81.1L190 82.1L193.3 77.6L199.3 79.4L205.5 79.4L210.2 79.9L207.7 76.9L209.3 71.9L215.6 70.6L221.8 67.9L225 71.4L228.9 71.7L234 70.6L235.8 73.5L239.1 79.9L244.4 79.4L246.9 82.8L250.5 83.8M250.5 83.8L257.9 80.1L267 81.9L267.7 76.9L273.8 78.6L276.7 81.4L283.7 83.6L290.8 82.3L296.6 82.3L298.3 83.1L301.3 81.1L302.8 75.6L307.4 73L311.1 75.1L313.5 81.9L318.8 87.3L324.8 85.9L322.3 93.2L319.4 97L318.4 99.1M251.3 83.8L256.1 93L263.2 95L264.8 98.5L273.2 98.9L278.2 100.8L286.7 98.3L289 96.3L288.3 94.6L291.7 93.9L295.5 91.9L301.6 89.6L297.7 87.3L294.8 86.9L296.6 82.3M250.5 83.8L248.1 89L243.8 88.5L242.7 92.4L239.1 93.7L239.4 99.5L234.2 102L229.3 104.9L230.4 109.7L234.4 113M239.4 99.5L229.7 97.8L225 98.5L221.8 101.2L217.9 101.6L217.1 99.1L209.3 95L205.5 92.1L201.5 93.5L201.5 101.4L196.8 100M201.5 101.4L205.5 98.3L207.7 99.5L210.7 101.6L217.9 109.3M229.3 104.9L224.2 104.9L222.3 102.5L225 99.3M221.8 101.2L224.2 103.7L228.1 103.1L229.3 104.9M224.2 104.9L219.3 105.7L220.3 110.1M308.5 104.3L312.6 100.4L314.6 101.2L318.4 99.1M312.2 108.5L314.9 106.9M99.9 100.2L103.4 100.2L102.9 104.1L101.9 109.7M110.9 97L118.7 99.1M125.5 96.1L124.7 91.5L123.3 90.8L125.6 87.6L126.5 84.3L123.7 83.1L122.8 83.1L120.3 81.9L117.6 79.1M123.7 83.1L123.3 80.1L123.1 77.4L125 73.5M119 78.4L123.1 78.9M136.1 71.9L136.7 79.4L132.8 81.1L135.3 84.7L134.1 87.8L128.7 87.8L125.6 87.6M124.7 91.5L127.8 91.2L130.2 89.2L132.8 89L135.2 90.1L135.2 91.9M134.1 87.8L128.7 87.8M135.2 90.1L138.9 89.4L140.3 86.6L140.2 85.2L135.3 84.7M144.4 70.6L149.7 70.6L151.3 80.6L149.1 84L143.2 83.1L136.7 79.4M140.3 86.6L143.2 87.1L148.5 85.7M138.9 89.4L139.6 90.3L143.3 91.5L145.5 90.8L148.5 85.7M150.7 77.9L161.5 78.6L167.3 76.1L169.5 80.9L176.5 82.8L175.9 87.1L173.6 88.7M150.7 71.9L155.4 67L157.9 65.6L162.1 67.3L164.9 73.3L163.1 76.6M157.6 55.9L156.6 61.9L157.9 65.6M146.6 65.9L152.9 65.4L155.4 67M151.8 60.7L156.6 61.9M149.4 70.6L149.3 69L146.9 68.1M157.3 52.8L163.2 44.8L160.7 34.7L159.1 21.3L162.3 18.2M131.7 57.4L133.3 51.2L132.5 42.8L136.4 33.2L141.9 23.4L145.8 21.3L154.1 18.2L159.1 20.8M151.6 34.3L150.7 26L145.8 21.3M149.1 84L148.5 85.7L152.7 87.3L155.4 85.9L157.9 92.4L160.1 93M155.4 85.9L159.3 86.6L160.7 90.3L157.9 92.4M145.5 90.8L147.2 93.9L149.3 95.2L156 95.4L158.5 96.3M154.4 102.5L155.1 100.6L157.6 100M149.3 95.2L148.8 99.3L149.6 101.4L155.1 100.6M144.1 100.2L146 100.2L146.6 102.5L145 104.7M146 100.2L149.6 101.4M143.5 93.7L144.1 96.7L142.7 98.9M138.3 93L143.5 93.7L144.1 93.7L145.5 90.8M144.1 96.7L145.7 98.3L148.8 99.3M135.2 92.4L138.3 93L139.6 90.3M127.2 69.2L129.2 69.5M2 154L0.1 156.8L0.2 161L4 161.6L7.9 162.9L7.5 168.2L8.9 170.7L13.4 170.2L13.4 166.3L18.1 165.5L18.6 164.4L17.5 163.2L20 159.7M18.6 164.4L20 165.7L20.5 169.9L25.2 169.6L28.3 169L31.4 169L32.8 166M24.1 163.2L22.8 166.3L25.2 169.6M29.1 163.5L28.3 169M8.9 170.7L4.2 170.9L5 174.5L4 179.2L-0.7 180M-0.7 187.4L3.1 189.9L6 189.9L11.4 188L11.2 190.7L18.9 194.3L19.7 198.3L22.2 198.5L23.6 201.3L22.5 204.9L23.1 208.1L26.6 209L28.1 214.1L29.4 216.9M22.5 204.9L16.1 205.4L15.6 208.3L8.4 209.3L7.1 211.4M6 189.9L5.6 197.2L4.8 200.5L6.4 203.8L7.3 209.3L6.5 212.2L6.4 216.6M4.8 200.5L3.4 201.8M15.6 208.3L22.8 213.6L21.9 216.9L25.9 217.1L28.1 214.1M1.2 141.1L1.2 143.9" fill="none" stroke="#b9a3b9" stroke-opacity=".45" stroke-width=".5" stroke-linejoin="round"/><path d="M157.6 101L159.5 101.6L162.7 101.8L166.2 100L168.5 100L170.9 101.4L174 102L177.2 102L178.9 100.8L178.7 98.7L176.4 97L174 95L172.5 94.1L171.1 92.8L169.2 93.5L167 94.8L166 93.5L165.1 92.4L165.9 91L163.5 90.1L162 90.1L160.7 92.1L160.1 93.5L158.7 95.7L158.5 97L157.4 98.3L156.8 99.1ZM168.5 92.4L171.1 92.6L172.5 92.4L173.2 90.6L175.1 89L174 88.5L172.1 89.2L170.1 89.6L168.5 90.8ZM191.3 109.1L193.6 110.5L196.8 110.3L198.3 109.1L198 106.1L196.8 105.1L197.5 102.7L196.4 101.4L197.8 100.4L196.1 98.5L194.4 97.4L193.6 94.8L196.3 92.4L196.8 89.4L194.4 89L191.3 90.1L189.7 91.2L187.3 93.9L188.1 97.8L189.7 100.4L191.3 103.1L191 105.1L190.3 107.1ZM205.4 95.7L206.9 93L209.3 90.1L209.8 92.4L208.5 94.6L206.9 96.1ZM163.5 173.1L165.1 172.1L167 172.3L167.3 174.2L166.2 176L164.6 176.7L163.5 175.4ZM159.5 177.9L160.2 179.7L160.4 182L162 185.2L162.3 186.3L161.2 185.7L159.6 182.8L159.3 179.7ZM166.8 187.7L167.9 189.1L168.1 192.3L168.9 195.1L168.1 195.1L167.3 192.3L167 189.6ZM276.2 78.1L278.2 77.6L281.4 74.8L284.5 71.7L285.8 67.3L284.5 67.3L282.9 71.7L279.8 74.6L276.7 77.1ZM162.1 54.4L164.6 53.7L165.1 51.2L163.1 48.9L161.2 50.5ZM168.5 51.2L170.1 50.5L169.3 46.2L167.8 46.2L168.2 48.6ZM228.9 92.4L231.2 90.1L234.4 90.1L237.5 90.1L237.5 91L232.8 91.2L230.4 93.5Z" fill="#aad3df"/></svg>
<div class="mk" style="left:-9.7px;top:159.6px;background:rgba(255,255,0,.7)"><i style="background:rgba(255,255,0,.7)"></i></div><div class="mk" style="left:-2.2px;top:146.0px;background:rgba(0,228,0,.7)"><i style="background:rgba(0,228,0,.7)"></i></div><div class="mk" style="left:32.3px;top:204.2px;background:rgba(255,255,0,.7)"><i style="background:rgba(255,255,0,.7)"></i></div><div class="mk" style="left:109.9px;top:103.0px;background:rgba(255,255,0,.7)"><i style="background:rgba(255,255,0,.7)"></i></div><div class="mk" style="left:132.1px;top:87.5px;background:rgba(255,255,0,.7)"><i style="background:rgba(255,255,0,.7)"></i></div><div class="mk" style="left:137.5px;top:88.2px;background:rgba(255,255,0,.7)"><i style="background:rgba(255,255,0,.7)"></i></div><div class="mk" style="left:139.5px;top:92.1px;background:rgba(255,126,0,.7)"><i style="background:rgba(255,126,0,.7)"></i></div><div class="mk" style="left:150.5px;top:82.1px;background:rgba(255,255,0,.7)"><i style="background:rgba(255,255,0,.7)"></i></div><div class="mk" style="left:78.1px;top:142.1px;background:rgba(255,126,0,.7)"><i style="background:rgba(255,126,0,.7)"></i></div><div class="mk" style="left:83.7px;top:150.7px;background:rgba(150,150,150,.7)"><i style="background:rgba(150,150,150,.7)"></i></div><div class="mk" style="left:104.8px;top:161.3px;background:rgba(255,0,0,.7)"><i style="background:rgba(255,0,0,.7)"></i></div><div class="mk" style="left:98.9px;top:156.7px;background:rgba(255,126,0,.7)"><i style="background:rgba(255,126,0,.7)"></i></div><div class="mk" style="left:92.6px;top:145.4px;background:rgba(255,0,0,.7)"><i style="background:rgba(255,0,0,.7)"></i></div><div class="mk" style="left:103.2px;top:145.2px;background:rgba(255,255,0,.7)"><i style="background:rgba(255,255,0,.7)"></i></div><div class="mk" style="left:117.4px;top:150.1px;background:rgba(255,0,0,.7)"><i style="background:rgba(255,0,0,.7)"></i></div><div class="mk" style="left:110.8px;top:155.3px;background:rgba(150,150,150,.7)"><i style="background:rgba(150,150,150,.7)"></i></div><div class="mk" style="left:129.5px;top:146.2px;background:rgba(126,0,80,.7)"><i style="background:rgba(126,0,80,.7)"></i></div><div class="mk" style="left:119.6px;top:164.9px;background:rgba(150,150,150,.7)"><i style="background:rgba(150,150,150,.7)"></i></div><div class="mk" style="left:129.2px;top:171.3px;background:rgba(150,150,150,.7)"><i style="background:rgba(150,150,150,.7)"></i></div><div class="mk" style="left:156.2px;top:140.5px;background:rgba(255,255,0,.7)"><i style="background:rgba(255,255,0,.7)"></i></div><div class="mk" style="left:166.9px;top:130.6px;background:rgba(255,255,0,.7)"><i style="background:rgba(255,255,0,.7)"></i></div><div class="mk" style="left:166.5px;top:151.1px;background:rgba(150,150,150,.7)"><i style="background:rgba(150,150,150,.7)"></i></div><div class="mk" style="left:156.2px;top:163.4px;background:rgba(150,150,150,.7)"><i style="background:rgba(150,150,150,.7)"></i></div><div class="mk" style="left:150.9px;top:167.6px;background:rgba(150,150,150,.7)"><i style="background:rgba(150,150,150,.7)"></i></div><div class="mk" style="left:164.7px;top:167.0px;background:rgba(150,150,150,.7)"><i style="background:rgba(150,150,150,.7)"></i></div><div class="mk" style="left:180.0px;top:195.3px;background:rgba(150,150,150,.7)"><i style="background:rgba(150,150,150,.7)"></i></div><div class="mk" style="left:151.5px;top:113.4px;background:rgba(255,126,0,.7)"><i style="background:rgba(255,126,0,.7)"></i></div><div class="mk" style="left:162.3px;top:112.7px;background:rgba(150,150,150,.7)"><i style="background:rgba(150,150,150,.7)"></i></div><div class="mk" style="left:174.9px;top:109.4px;background:rgba(255,126,0,.7)"><i style="background:rgba(255,126,0,.7)"></i></div><div class="mk" style="left:180.8px;top:116.7px;background:rgba(255,126,0,.7)"><i style="background:rgba(255,126,0,.7)"></i></div><div class="mk" style="left:195.4px;top:124.6px;background:rgba(255,0,0,.7)"><i style="background:rgba(255,0,0,.7)"></i></div><div class="mk" style="left:177.1px;top:124.3px;background:rgba(150,150,150,.7)"><i style="background:rgba(150,150,150,.7)"></i></div><div class="mk" style="left:186.8px;top:124.3px;background:rgba(150,150,150,.7)"><i style="background:rgba(150,150,150,.7)"></i></div><div class="mk" style="left:174.9px;top:96.8px;background:rgba(0,228,0,.7)"><i style="background:rgba(0,228,0,.7)"></i></div><div class="mk" style="left:183.8px;top:96.6px;background:rgba(255,255,0,.7)"><i style="background:rgba(255,255,0,.7)"></i></div><div class="mk" style="left:196.7px;top:101.1px;background:rgba(255,255,0,.7)"><i style="background:rgba(255,255,0,.7)"></i></div><div class="mk" style="left:213.8px;top:94.2px;background:rgba(255,255,0,.7)"><i style="background:rgba(255,255,0,.7)"></i></div><div class="mk" style="left:213.1px;top:100.1px;background:rgba(255,255,0,.7)"><i style="background:rgba(255,255,0,.7)"></i></div><div class="mk" style="left:223.5px;top:90.7px;background:rgba(255,126,0,.7)"><i style="background:rgba(255,126,0,.7)"></i></div><div class="mk" style="left:226.7px;top:91.0px;background:rgba(255,0,0,.7)"><i style="background:rgba(255,0,0,.7)"></i></div><div class="mk" style="left:217.5px;top:108.7px;background:rgba(255,255,0,.7)"><i style="background:rgba(255,255,0,.7)"></i></div><div class="mk" style="left:221.1px;top:113.4px;background:rgba(150,150,150,.7)"><i style="background:rgba(150,150,150,.7)"></i></div><div class="mk" style="left:209.8px;top:125.2px;background:rgba(255,255,0,.7)"><i style="background:rgba(255,255,0,.7)"></i></div><div class="mk" style="left:227.0px;top:119.2px;background:rgba(255,126,0,.7)"><i style="background:rgba(255,126,0,.7)"></i></div><div class="mk" style="left:238.9px;top:119.8px;background:rgba(255,126,0,.7)"><i style="background:rgba(255,126,0,.7)"></i></div><div class="mk" style="left:248.5px;top:128.5px;background:rgba(255,0,0,.7)"><i style="background:rgba(255,0,0,.7)"></i></div><div class="mk" style="left:244.5px;top:128.0px;background:rgba(255,0,0,.7)"><i style="background:rgba(255,0,0,.7)"></i></div><div class="mk" style="left:219.3px;top:134.4px;background:rgba(255,126,0,.7)"><i style="background:rgba(255,126,0,.7)"></i></div><div class="mk" style="left:229.2px;top:136.8px;background:rgba(255,0,0,.7)"><i style="background:rgba(255,0,0,.7)"></i></div><div class="mk" style="left:230.9px;top:144.8px;background:rgba(255,255,0,.7)"><i style="background:rgba(255,255,0,.7)"></i></div><div class="mk" style="left:230.5px;top:154.7px;background:rgba(255,255,0,.7)"><i style="background:rgba(255,255,0,.7)"></i></div><div class="mk" style="left:254.7px;top:138.2px;background:rgba(255,126,0,.7)"><i style="background:rgba(255,126,0,.7)"></i></div><div class="mk" style="left:271.0px;top:131.0px;background:rgba(255,255,0,.7)"><i style="background:rgba(255,255,0,.7)"></i></div><div class="mk" style="left:266.0px;top:136.8px;background:rgba(255,0,0,.7)"><i style="background:rgba(255,0,0,.7)"></i></div><div class="mk" style="left:271.9px;top:148.7px;background:rgba(255,255,0,.7)"><i style="background:rgba(255,255,0,.7)"></i></div><div class="mk" style="left:264.6px;top:160.0px;background:rgba(0,228,0,.7)"><i style="background:rgba(0,228,0,.7)"></i></div><div class="mk" style="left:272.6px;top:174.5px;background:rgba(255,255,0,.7)"><i style="background:rgba(255,255,0,.7)"></i></div><div class="mk" style="left:282.5px;top:126.5px;background:rgba(255,126,0,.7)"><i style="background:rgba(255,126,0,.7)"></i></div><div class="mk" style="left:295.5px;top:113.9px;background:rgba(255,0,0,.7)"><i style="background:rgba(255,0,0,.7)"></i></div><div class="mk" style="left:298.8px;top:93.4px;background:rgba(150,150,150,.7)"><i style="background:rgba(150,150,150,.7)"></i></div><div class="mk" style="left:287.1px;top:97.4px;background:rgba(0,228,0,.7)"><i style="background:rgba(0,228,0,.7)"></i></div><div class="mk" style="left:272.8px;top:80.2px;background:rgba(150,150,150,.7)"><i style="background:rgba(150,150,150,.7)"></i></div><div class="mk" style="left:-9.7px;top:159.6px"><b>63</b></div><div class="mk" style="left:-2.2px;top:146.0px"><b>27</b></div><div class="mk" style="left:32.3px;top:204.2px"><b>53</b></div><div class="mk" style="left:109.9px;top:103.0px"><b>69</b></div><div class="mk" style="left:132.1px;top:87.5px"><b>83</b></div><div class="mk" style="left:137.5px;top:88.2px"><b>8</b></div><div class="mk" style="left:139.5px;top:92.1px"><b>124</b></div><div class="mk" style="left:150.5px;top:82.1px"><b>55</b></div><div class="mk" style="left:78.1px;top:142.1px"><b>120</b></div><div class="mk" style="left:83.7px;top:150.7px"><b>N<s>/</s>A</b></div><div class="mk" style="left:98.9px;top:156.7px"><b>121</b></div><div class="mk" style="left:92.6px;top:145.4px"><b>163</b></div><div class="mk" style="left:103.2px;top:145.2px"><b>88</b></div><div class="mk" style="left:117.4px;top:150.1px"><b>177</b></div><div class="mk" style="left:110.8px;top:155.3px"><b>N<s>/</s>A</b></div><div class="mk" style="left:129.5px;top:146.2px"><b>358</b></div><div class="mk" style="left:119.6px;top:164.9px"><b>N<s>/</s>A</b></div><div class="mk" style="left:129.2px;top:171.3px"><b>N<s>/</s>A</b></div><div class="mk" style="left:156.2px;top:140.5px"><b>64</b></div><div class="mk" style="left:166.9px;top:130.6px"><b>52</b></div><div class="mk" style="left:166.5px;top:151.1px"><b>N<s>/</s>A</b></div><div class="mk" style="left:156.2px;top:163.4px"><b>N<s>/</s>A</b></div><div class="mk" style="left:150.9px;top:167.6px"><b>N<s>/</s>A</b></div><div class="mk" style="left:164.7px;top:167.0px"><b>N<s>/</s>A</b></div><div class="mk" style="left:180.0px;top:195.3px"><b>N<s>/</s>A</b></div><div class="mk" style="left:151.5px;top:113.4px"><b>139</b></div><div class="mk" style="left:162.3px;top:112.7px"><b>N<s>/</s>A</b></div><div class="mk" style="left:174.9px;top:109.4px"><b>130</b></div><div class="mk" style="left:180.8px;top:116.7px"><b>114</b></div><div class="mk" style="left:195.4px;top:124.6px"><b>154</b></div><div class="mk" style="left:177.1px;top:124.3px"><b>N<s>/</s>A</b></div><div class="mk" style="left:186.8px;top:124.3px"><b>N<s>/</s>A</b></div><div class="mk" style="left:174.9px;top:96.8px"><b>20</b></div><div class="mk" style="left:183.8px;top:96.6px"><b>74</b></div><div class="mk" style="left:196.7px;top:101.1px"><b>62</b></div><div class="mk" style="left:213.8px;top:94.2px"><b>89</b></div><div class="mk" style="left:213.1px;top:100.1px"><b>63</b></div><div class="mk" style="left:223.5px;top:90.7px"><b>106</b></div><div class="mk" style="left:226.7px;top:91.0px"><b>182</b></div><div class="mk" style="left:217.5px;top:108.7px"><b>70</b></div><div class="mk" style="left:221.1px;top:113.4px"><b>N<s>/</s>A</b></div><div class="mk" style="left:209.8px;top:125.2px"><b>85</b></div><div class="mk" style="left:227.0px;top:119.2px"><b>124</b></div><div class="mk" style="left:238.9px;top:119.8px"><b>111</b></div><div class="mk" style="left:248.5px;top:128.5px"><b>33</b></div><div class="mk" style="left:244.5px;top:128.0px"><b>172</b></div><div class="mk" style="left:219.3px;top:134.4px"><b>127</b></div><div class="mk" style="left:229.2px;top:136.8px"><b>161</b></div><div class="mk" style="left:230.9px;top:144.8px"><b>89</b></div><div class="mk" style="left:230.5px;top:154.7px"><b>64</b></div><div class="mk" style="left:254.7px;top:138.2px"><b>105</b></div><div class="mk" style="left:271.0px;top:131.0px"><b>85</b></div><div class="mk" style="left:266.0px;top:136.8px"><b>153</b></div><div class="mk" style="left:271.9px;top:148.7px"><b>92</b></div><div class="mk" style="left:264.6px;top:160.0px"><b>36</b></div><div class="mk" style="left:272.6px;top:174.5px"><b>60</b></div><div class="mk" style="left:282.5px;top:126.5px"><b>147</b></div><div class="mk" style="left:295.5px;top:113.9px"><b>157</b></div><div class="mk" style="left:298.8px;top:93.4px"><b>N<s>/</s>A</b></div><div class="mk" style="left:287.1px;top:97.4px"><b>18</b></div><div class="mk" style="left:272.8px;top:80.2px"><b>N<s>/</s>A</b></div>
<div id="tip" class="abs"></div>
<div id="pop" class="abs">Bishkek<br>2023-02-24 6:00 PM<br>(LT)
<div class="tb"><div class="th"><span style="position:absolute;left:6px">Pollutant</span><span style="position:absolute;left:50.5px">AQI</span></div>
<div style="position:absolute;left:0;top:15.5px;width:45.4px;height:15.5px;line-height:16px;font-size:7.6px">PM2.5</div>
<div style="position:absolute;left:45.4px;top:15.5px;width:24.2px;height:15.5px;line-height:16px;background:#ff7e00;color:#fff;font-weight:bold;font-size:7.2px">106</div></div>
</div>
</div>

<div class="abs ph" style="top:2px"><span>Select a City</span></div>
<div class="abs sel" style="top:21.7px"><span class="v">Bishkek</span><span class="x">X</span><span class="c"></span></div>
<div class="abs ph" style="top:54.2px;height:19.4px"><span>Select a Parameter</span></div>
<div class="abs sel" style="top:73.6px"><span class="v">PM2.5</span><span class="x">X</span><span class="c"></span></div>
<div id="bx" class="abs"><div class="t">Bishkek</div>
<svg class="abs" style="left:157px;top:14px" width="20" height="20" viewBox="0 0 20 20"><rect width="20" height="20" fill="#eaa832"/><circle cx="5.2" cy="14.8" r="2" fill="#fff"/><path d="M3.2 8.2a8.6 8.6 0 0 1 8.6 8.6M3.2 3.6a13.2 13.2 0 0 1 13.2 13.2" fill="none" stroke="#fff" stroke-width="2.6"/></svg>
</div>
<div id="note" class="abs">Note: Values above 500 are considered Beyond the AQI. Follow<br>recommendations for the Hazardous category. Additional<br>information on reducing exposure to extremely high levels of particle<br>pollution is available <b>here</b>.</div>

<div class="abs tab" style="left:9px;width:58.5px;background:#fff;border:1px solid #aaa;border-top:1.5px solid #1b3a66;color:#3a3a3a;padding-top:3.7px">AQI</div>
<div class="abs tab" style="left:70px;width:90px;background:#d2d2d2;color:#666">Concentration</div>
<div class="abs tab" style="left:163px;width:76px;background:#d2d2d2;color:#666">Historical</div>
<div id="learn" class="abs">Learn more about how the Air Quality Index [AQI] is calculated from the EPA <u>here</u>.</div>
<div id="chart" class="abs"><svg width="437" height="195" viewBox="0 0 437 195" style="position:absolute;left:0;top:0;font-family:'Liberation Sans',sans-serif"><line x1="40.6" y1="33.4" x2="431.0" y2="33.4" stroke="#e6e6e6" stroke-width="1"/><text x="31.9" y="35.6" text-anchor="end" font-size="6.2" fill="#333">500</text><line x1="40.6" y1="53.6" x2="431.0" y2="53.6" stroke="#e6e6e6" stroke-width="1"/><text x="31.9" y="55.8" text-anchor="end" font-size="6.2" fill="#333">400</text><line x1="40.6" y1="73.9" x2="431.0" y2="73.9" stroke="#e6e6e6" stroke-width="1"/><text x="31.9" y="76.1" text-anchor="end" font-size="6.2" fill="#333">300</text><line x1="40.6" y1="94.2" x2="431.0" y2="94.2" stroke="#e6e6e6" stroke-width="1"/><text x="31.9" y="96.4" text-anchor="end" font-size="6.2" fill="#333">200</text><line x1="40.6" y1="114.4" x2="431.0" y2="114.4" stroke="#e6e6e6" stroke-width="1"/><text x="31.9" y="116.6" text-anchor="end" font-size="6.2" fill="#333">100</text><line x1="40.6" y1="134.7" x2="431.0" y2="134.7" stroke="#e6e6e6" stroke-width="1"/><text x="31.9" y="136.9" text-anchor="end" font-size="6.2" fill="#333">0</text><rect x="44.5" y="113.4" width="8.4" height="21.3" fill="#ff7e00" stroke="#8c4600" stroke-width="0.7"/><line x1="48.7" y1="134.7" x2="48.7" y2="137.7" stroke="#ccd6eb" stroke-width="0.7"/><text transform="translate(50.2 142.7) rotate(-45)" text-anchor="end" font-size="6.4" fill="#666">7 PM</text><rect x="60.8" y="108.3" width="8.4" height="26.4" fill="#ff7e00" stroke="#8c4600" stroke-width="0.7"/><line x1="65.0" y1="134.7" x2="65.0" y2="137.7" stroke="#ccd6eb" stroke-width="0.7"/><text transform="translate(66.5 142.7) rotate(-45)" text-anchor="end" font-size="6.4" fill="#666">8 PM</text><rect x="77.1" y="103.9" width="8.4" height="30.8" fill="#ff0000" stroke="#8c0000" stroke-width="0.7"/><line x1="81.3" y1="134.7" x2="81.3" y2="137.7" stroke="#ccd6eb" stroke-width="0.7"/><text transform="translate(82.8 142.7) rotate(-45)" text-anchor="end" font-size="6.4" fill="#666">9 PM</text><rect x="93.3" y="103.9" width="8.4" height="30.8" fill="#ff0000" stroke="#8c0000" stroke-width="0.7"/><line x1="97.5" y1="134.7" x2="97.5" y2="137.7" stroke="#ccd6eb" stroke-width="0.7"/><text transform="translate(99.0 142.7) rotate(-45)" text-anchor="end" font-size="6.4" fill="#666">10 PM</text><rect x="109.6" y="106.7" width="8.4" height="28.0" fill="#ff7e00" stroke="#8c4600" stroke-width="0.7"/><line x1="113.8" y1="134.7" x2="113.8" y2="137.7" stroke="#ccd6eb" stroke-width="0.7"/><text transform="translate(115.3 142.7) rotate(-45)" text-anchor="end" font-size="6.4" fill="#666">11 PM</text><rect x="125.9" y="110.0" width="8.4" height="24.7" fill="#ff7e00" stroke="#8c4600" stroke-width="0.7"/><line x1="130.1" y1="134.7" x2="130.1" y2="137.7" stroke="#ccd6eb" stroke-width="0.7"/><text transform="translate(131.6 142.7) rotate(-45)" text-anchor="end" font-size="6.4" fill="#666">Feb 24, 2023 12 AM</text><rect x="142.2" y="113.8" width="8.4" height="20.9" fill="#ff7e00" stroke="#8c4600" stroke-width="0.7"/><line x1="146.4" y1="134.7" x2="146.4" y2="137.7" stroke="#ccd6eb" stroke-width="0.7"/><text transform="translate(147.9 142.7) rotate(-45)" text-anchor="end" font-size="6.4" fill="#666">1 AM</text><rect x="158.4" y="116.5" width="8.4" height="18.2" fill="#ffff00" stroke="#8a8a00" stroke-width="0.7"/><line x1="162.6" y1="134.7" x2="162.6" y2="137.7" stroke="#ccd6eb" stroke-width="0.7"/><text transform="translate(164.1 142.7) rotate(-45)" text-anchor="end" font-size="6.4" fill="#666">2 AM</text><rect x="174.7" y="118.5" width="8.4" height="16.2" fill="#ffff00" stroke="#8a8a00" stroke-width="0.7"/><line x1="178.9" y1="134.7" x2="178.9" y2="137.7" stroke="#ccd6eb" stroke-width="0.7"/><text transform="translate(180.4 142.7) rotate(-45)" text-anchor="end" font-size="6.4" fill="#666">3 AM</text><rect x="191.0" y="120.9" width="8.4" height="13.8" fill="#ffff00" stroke="#8a8a00" stroke-width="0.7"/><line x1="195.2" y1="134.7" x2="195.2" y2="137.7" stroke="#ccd6eb" stroke-width="0.7"/><text transform="translate(196.7 142.7) rotate(-45)" text-anchor="end" font-size="6.4" fill="#666">4 AM</text><rect x="207.2" y="121.5" width="8.4" height="13.2" fill="#ffff00" stroke="#8a8a00" stroke-width="0.7"/><line x1="211.4" y1="134.7" x2="211.4" y2="137.7" stroke="#ccd6eb" stroke-width="0.7"/><text transform="translate(212.9 142.7) rotate(-45)" text-anchor="end" font-size="6.4" fill="#666">5 AM</text><rect x="223.5" y="121.5" width="8.4" height="13.2" fill="#ffff00" stroke="#8a8a00" stroke-width="0.7"/><line x1="227.7" y1="134.7" x2="227.7" y2="137.7" stroke="#ccd6eb" stroke-width="0.7"/><text transform="translate(229.2 142.7) rotate(-45)" text-anchor="end" font-size="6.4" fill="#666">6 AM</text><rect x="239.8" y="122.1" width="8.4" height="12.6" fill="#ffff00" stroke="#8a8a00" stroke-width="0.7"/><line x1="244.0" y1="134.7" x2="244.0" y2="137.7" stroke="#ccd6eb" stroke-width="0.7"/><text transform="translate(245.5 142.7) rotate(-45)" text-anchor="end" font-size="6.4" fill="#666">7 AM</text><rect x="256.0" y="120.9" width="8.4" height="13.8" fill="#ffff00" stroke="#8a8a00" stroke-width="0.7"/><line x1="260.2" y1="134.7" x2="260.2" y2="137.7" stroke="#ccd6eb" stroke-width="0.7"/><text transform="translate(261.7 142.7) rotate(-45)" text-anchor="end" font-size="6.4" fill="#666">8 AM</text><rect x="272.3" y="119.5" width="8.4" height="15.2" fill="#ffff00" stroke="#8a8a00" stroke-width="0.7"/><line x1="276.5" y1="134.7" x2="276.5" y2="137.7" stroke="#ccd6eb" stroke-width="0.7"/><text transform="translate(278.0 142.7) rotate(-45)" text-anchor="end" font-size="6.4" fill="#666">9 AM</text><rect x="288.6" y="120.9" width="8.4" height="13.8" fill="#ffff00" stroke="#8a8a00" stroke-width="0.7"/><line x1="292.8" y1="134.7" x2="292.8" y2="137.7" stroke="#ccd6eb" stroke-width="0.7"/><text transform="translate(294.3 142.7) rotate(-45)" text-anchor="end" font-size="6.4" fill="#666">10 AM</text><rect x="304.9" y="121.5" width="8.4" height="13.2" fill="#ffff00" stroke="#8a8a00" stroke-width="0.7"/><line x1="309.1" y1="134.7" x2="309.1" y2="137.7" stroke="#ccd6eb" stroke-width="0.7"/><text transform="translate(310.6 142.7) rotate(-45)" text-anchor="end" font-size="6.4" fill="#666">11 AM</text><rect x="321.1" y="109.4" width="8.4" height="25.3" fill="#ff7e00" stroke="#8c4600" stroke-width="0.7"/><line x1="325.3" y1="134.7" x2="325.3" y2="137.7" stroke="#ccd6eb" stroke-width="0.7"/><text transform="translate(326.8 142.7) rotate(-45)" text-anchor="end" font-size="6.4" fill="#666">12 PM</text><rect x="337.4" y="103.3" width="8.4" height="31.4" fill="#ff0000" stroke="#8c0000" stroke-width="0.7"/><line x1="341.6" y1="134.7" x2="341.6" y2="137.7" stroke="#ccd6eb" stroke-width="0.7"/><text transform="translate(343.1 142.7) rotate(-45)" text-anchor="end" font-size="6.4" fill="#666">1 PM</text><rect x="353.7" y="103.9" width="8.4" height="30.8" fill="#ff0000" stroke="#8c0000" stroke-width="0.7"/><line x1="357.9" y1="134.7" x2="357.9" y2="137.7" stroke="#ccd6eb" stroke-width="0.7"/><text transform="translate(359.4 142.7) rotate(-45)" text-anchor="end" font-size="6.4" fill="#666">2 PM</text><rect x="369.9" y="106.3" width="8.4" height="28.4" fill="#ff7e00" stroke="#8c4600" stroke-width="0.7"/><line x1="374.1" y1="134.7" x2="374.1" y2="137.7" stroke="#ccd6eb" stroke-width="0.7"/><text transform="translate(375.6 142.7) rotate(-45)" text-anchor="end" font-size="6.4" fill="#666">3 PM</text><rect x="386.2" y="112.8" width="8.4" height="21.9" fill="#ff7e00" stroke="#8c4600" stroke-width="0.7"/><line x1="390.4" y1="134.7" x2="390.4" y2="137.7" stroke="#ccd6eb" stroke-width="0.7"/><text transform="translate(391.9 142.7) rotate(-45)" text-anchor="end" font-size="6.4" fill="#666">4 PM</text><rect x="402.5" y="115.0" width="8.4" height="19.7" fill="#ffff00" stroke="#8a8a00" stroke-width="0.7"/><line x1="406.7" y1="134.7" x2="406.7" y2="137.7" stroke="#ccd6eb" stroke-width="0.7"/><text transform="translate(408.2 142.7) rotate(-45)" text-anchor="end" font-size="6.4" fill="#666">5 PM</text><rect x="418.7" y="113.2" width="8.4" height="21.5" fill="#ff7e00" stroke="#8c4600" stroke-width="0.7"/><line x1="422.9" y1="134.7" x2="422.9" y2="137.7" stroke="#ccd6eb" stroke-width="0.7"/><text transform="translate(424.4 142.7) rotate(-45)" text-anchor="end" font-size="6.4" fill="#666">6 PM</text><text transform="translate(15.0 81.0) rotate(-90)" text-anchor="middle" font-size="6" fill="#333">AQI</text><text x="218.8" y="14.0" text-anchor="middle" font-size="10" letter-spacing="0.55" fill="#333">Bishkek – PM2.5</text></svg></div>
<div id="cc" class="abs">
<div class="h"><div style="position:absolute;left:0;width:137px;top:4px;font-size:8.25px">Current Conditions</div><div style="position:absolute;left:0;width:137px;top:17px;font-size:6.6px">observed at</div><div style="position:absolute;left:0;width:137px;top:27.5px;font-size:8.2px">Feb 24, 2023 6:00 PM (LT)</div></div>
<div class="o">106 AQI<br>Unhealthy for Sensitive<br>Groups<br>PM2.5</div>
<div class="m"><div style="text-align:center;font-weight:bold;font-size:6.6px;color:#222;padding-right:2.5px">Health Message</div>When AQI values are between 101 and 150,<br>members of sensitive groups may<br>experience health effects, but the general<br>public is unlikely to be affected.</div>
</div>
</body></html>
